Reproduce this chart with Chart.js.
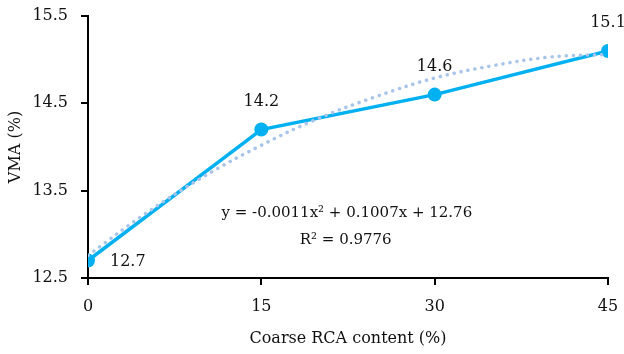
<!DOCTYPE html>
<html>
<head>
<meta charset="utf-8">
<script src="https://cdn.jsdelivr.net/npm/chart.js@4/dist/chart.umd.min.js"></script>
<style>
  html, body { margin: 0; padding: 0; background: #fff; }
  #wrap { width: 624px; height: 354px; }
</style>
</head>
<body>
<div id="wrap"><canvas id="c"></canvas></div>
<script>
// measured points
const rcaContent = [0, 15, 30, 45];
const vmaValues = [12.7, 14.2, 14.6, 15.1];

// polynomial trendline
const trendX = [0, 5, 10, 15, 20, 25, 30, 35, 40, 45];
const trendY = [12.76, 13.24, 13.66, 14.02, 14.33, 14.58, 14.79, 14.93, 15.03, 15.06];

const xTicks = [0, 15, 30, 45];
const yTicks = [12.5, 13.5, 14.5, 15.5];

const equationText = "y = -0.0011x² + 0.1007x + 12.76";
const r2Text = "R² = 0.9776";

const FONT = "'DejaVu Serif', serif";
const FSIZE = 16;
const LINE_BLUE = "#00B0F0";
const TREND_BLUE = "#A9C4EB";

// value labels + trendline equation
const labelPlugin = {
  id: "labels",
  afterDatasetsDraw(chart) {
    const ctx = chart.ctx;
    const meta = chart.getDatasetMeta(1);
    ctx.save();
    ctx.fillStyle = "#111";
    ctx.font = FSIZE + "px " + FONT;
    ctx.textBaseline = "middle";
    meta.data.forEach((pt, i) => {
      const txt = vmaValues[i].toFixed(1);
      if (i === 0) {
        ctx.textAlign = "left";
        ctx.fillText(txt, pt.x + 22, pt.y + 1);
      } else {
        ctx.textAlign = "center";
        ctx.fillText(txt, pt.x, pt.y - 28);
      }
    });
    const xs = chart.scales.x, ys = chart.scales.y;
    ctx.font = "15px " + FONT;
    ctx.textAlign = "center";
    ctx.fillText(equationText, xs.getPixelForValue(22.4), ys.getPixelForValue(13.24));
    ctx.fillText(r2Text, xs.getPixelForValue(22.3), ys.getPixelForValue(12.935));
    ctx.restore();
  }
};

// drop the label overhang padding so the plot area sits where the reference has it
function noOverhang(axis) {
  axis.paddingTop = 0;
  axis.paddingBottom = 0;
  axis.paddingLeft = 0;
  axis.paddingRight = 0;
}

new Chart(document.getElementById("c"), {
  type: "line",
  data: {
    datasets: [
      {
        label: "Trend",
        data: trendX.map((x, i) => ({ x: x, y: trendY[i] })),
        borderColor: TREND_BLUE,
        borderWidth: 3.5,
        borderDash: [0.1, 7],
        borderCapStyle: "round",
        pointRadius: 0,
        tension: 0.4,
        fill: false
      },
      {
        label: "VMA",
        data: rcaContent.map((x, i) => ({ x: x, y: vmaValues[i] })),
        borderColor: LINE_BLUE,
        backgroundColor: LINE_BLUE,
        borderWidth: 3.5,
        pointRadius: 7,
        pointBorderWidth: 0,
        tension: 0,
        fill: false
      }
    ]
  },
  options: {
    responsive: true,
    maintainAspectRatio: false,
    animation: false,
    layout: { padding: { top: 16, right: 16, left: 0, bottom: 0 } },
    plugins: { legend: { display: false }, tooltip: { enabled: false } },
    scales: {
      x: {
        type: "linear",
        min: 0,
        max: 45,
        afterBuildTicks: (axis) => { axis.ticks = xTicks.map(v => ({ value: v })); },
        afterFit: (axis) => { axis.height = 76; noOverhang(axis); },
        grid: { drawOnChartArea: false, drawTicks: true, tickLength: 7, color: "#000", lineWidth: 2 },
        border: { display: true, color: "#000", width: 2 },
        ticks: { color: "#111", font: { family: FONT, size: FSIZE }, padding: 12, maxRotation: 0 },
        title: { display: true, text: "Coarse RCA content (%)", color: "#111", font: { family: FONT, size: FSIZE }, padding: { top: 4, bottom: 6 } }
      },
      y: {
        min: 12.5,
        max: 15.5,
        afterBuildTicks: (axis) => { axis.ticks = yTicks.map(v => ({ value: v })); },
        afterFit: (axis) => { axis.width = 88; noOverhang(axis); },
        grid: { drawOnChartArea: false, drawTicks: true, tickLength: 7, color: "#000", lineWidth: 2 },
        border: { display: true, color: "#000", width: 2 },
        ticks: { color: "#111", font: { family: FONT, size: FSIZE }, padding: 13, callback: (v) => v.toFixed(1) },
        title: { display: true, text: "VMA (%)", color: "#111", font: { family: FONT, size: FSIZE }, padding: { top: 6, bottom: 4 } }
      }
    }
  },
  plugins: [labelPlugin]
});
</script>
</body>
</html>
